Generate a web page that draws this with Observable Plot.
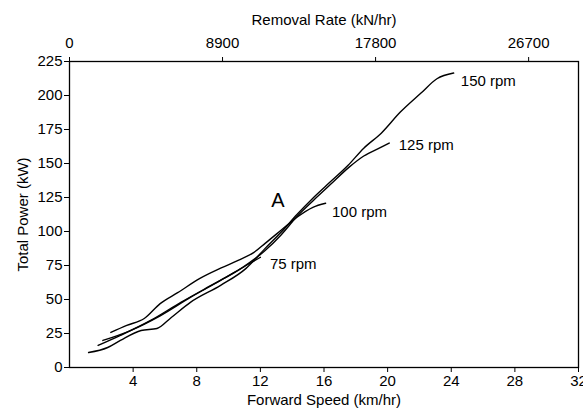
<!DOCTYPE html>
<html>
<head>
<meta charset="utf-8">
<script src="https://cdn.jsdelivr.net/npm/d3@7"></script>
<script src="https://cdn.jsdelivr.net/npm/@observablehq/plot@0.6"></script>
<style>
  html, body { margin: 0; padding: 0; background: #fff; }
  #chart svg { display: block; }
</style>
</head>
<body>
<div id="chart"></div>
<script>
// ---- data ----
const speed150 = [1.2, 2.4, 3.2, 4.5, 5.5, 6.4, 7.6, 9.5, 11.1, 12.3, 13.3, 14.3, 15.3, 16.4, 17.5, 18.5, 19.6, 20.8, 22.1, 23.1, 24.15];
const power150 = [11, 14.7, 19.9, 27.2, 28.7, 36.8, 47.9, 60.4, 72.9, 87.6, 99.4, 112.5, 124.5, 136.5, 148.5, 161.3, 172.3, 187.8, 201.8, 212.3, 216.5];

const speed125 = [1.8, 3.2, 5.1, 7.0, 8.9, 10.8, 12.3, 13.3, 14.3, 15.3, 16.4, 17.6, 18.5, 19.6, 20.1];
const power125 = [16.2, 23.6, 34.6, 47.9, 60.4, 72.9, 86, 97.5, 111, 122.5, 134.5, 147.5, 155.5, 162, 165];

const speed100 = [2.6, 3.6, 4.7, 5.7, 6.8, 8.2, 9.5, 10.6, 11.6, 12.3, 13.3, 14.3, 15.3, 16.1];
const power100 = [25.8, 31, 36, 47, 55, 65.5, 73, 78.8, 84.7, 91.3, 100.9, 110.5, 117.8, 120.8];

const speed75 = [2.1, 3.8, 5.7, 7.6, 9.5, 11.1, 12.0];
const power75 = [19.9, 27, 38, 51.5, 64, 75, 81];

const seriesNames = ["150 rpm", "125 rpm", "100 rpm", "75 rpm"];
const labelSpeed = [24.6, 20.7, 16.5, 12.6];
const labelPower = [210.3, 163.5, 114.5, 76.2];

const markText = ["A"];
const markSpeed = [13.1];
const markPower = [123];

const xTicks = [4, 8, 12, 16, 20, 24, 28, 32];
const yTicks = [0, 25, 50, 75, 100, 125, 150, 175, 200, 225];
const removalTicks = [0, 8900, 17800, 26700];
const removalPerSpeed = 925; // kN/hr per km/hr (top axis conversion)

// ---- build rows ----
const toRows = (name, xs, ys) => xs.map((x, i) => ({series: name, speed: x, power: ys[i]}));
const rows = [
  ...toRows("150 rpm", speed150, power150),
  ...toRows("125 rpm", speed125, power125),
  ...toRows("100 rpm", speed100, power100),
  ...toRows("75 rpm", speed75, power75)
];
const labels = seriesNames.map((n, i) => ({text: n, speed: labelSpeed[i], power: labelPower[i]}));
const marks = markText.map((t, i) => ({text: t, speed: markSpeed[i], power: markPower[i]}));

const font = "'Liberation Sans', Arial, Helvetica, sans-serif";

const chart = Plot.plot({
  width: 583,
  height: 410,
  marginLeft: 69,
  marginRight: 5,
  marginTop: 61,
  marginBottom: 43,
  style: {fontFamily: font, fontSize: "15px", color: "#000", background: "#fff"},
  x: {domain: [0, 32]},
  y: {domain: [0, 225]},
  marks: [
    Plot.frame({stroke: "#000", strokeWidth: 1.3}),
    Plot.axisY({ticks: yTicks, tickSize: 5, tickPadding: 2, label: "Total Power (kW)",
      labelAnchor: "center", labelArrow: "none", labelOffset: 52, fontSize: 15}),
    Plot.axisX({anchor: "bottom", ticks: xTicks, tickSize: 5, tickPadding: 3,
      label: "Forward Speed (km/hr)", labelAnchor: "center", labelArrow: "none", labelOffset: 37, fontSize: 15}),
    Plot.axisX({anchor: "top", ticks: removalTicks.map(r => r / removalPerSpeed), tickSize: 5, tickPadding: 9,
      tickFormat: (d) => String(Math.round(d * removalPerSpeed / 100) * 100),
      label: "Removal Rate (kN/hr)", labelAnchor: "center", labelArrow: "none", labelOffset: 47, fontSize: 15}),
    Plot.line(rows, {x: "speed", y: "power", z: "series", stroke: "#000", strokeWidth: 1.4, curve: "monotone-x"}),
    Plot.text(labels, {x: "speed", y: "power", text: "text", textAnchor: "start", fontSize: 15, fill: "#000"}),
    Plot.text(marks, {x: "speed", y: "power", text: "text", fontSize: 20, fill: "#000"})
  ]
});
document.getElementById("chart").appendChild(chart);
</script>
</body>
</html>
